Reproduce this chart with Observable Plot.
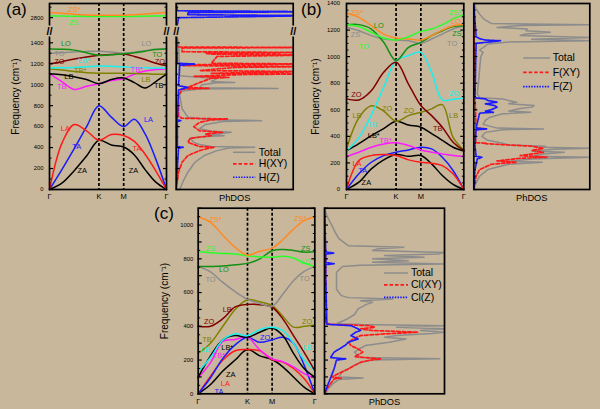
<!DOCTYPE html>
<html><head><meta charset="utf-8">
<script src="https://cdn.jsdelivr.net/npm/d3@7"></script>
<script src="https://cdn.jsdelivr.net/npm/@observablehq/plot@0.6"></script>
<style>
body{margin:0;background:#c8b79b;}
#root{position:relative;width:600px;height:409px;background:#c8b79b;font-family:"Liberation Sans",Arial,sans-serif;overflow:hidden}
#root svg{position:absolute}
.plabel{position:absolute;font-size:17px;line-height:1;color:#000}
</style></head><body><div id="root"></div><script>
const BG = "#c8b79b";
const FONT = '"Liberation Sans", Arial, Helvetica, sans-serif';
const C = {black:"#000000", blue:"#1a1aff", red:"#ff1a1a", magenta:"#ff1aff", cyan:"#1af0f0", olive:"#808000",
  brown:"#800000", dkgreen:"#129012", lime:"#2aff2a", gray:"#8c8c8c", orange:"#ff8a22"};

// k-path: Γ–K–M–Γ (lengths 1 : 0.5 : 0.866)
const kTicks = [0, 1, 1.5, 2.366];
const kLabels = ["Γ", "K", "M", "Γ"];
const sGrid = [0, 0.25, 0.5, 0.75, 1, 1.25, 1.5, 1.7165, 1.933, 2.1495, 2.366];

// ---- panel (a) bands (cm^-1 at sGrid)
const aZA  = [0, 60, 180, 320, 470, 425, 405, 330, 190, 70, 0];
const aTA  = [0, 190, 390, 600, 800, 690, 600, 670, 530, 290, 0];
const aLA  = [0, 440, 620, 560, 470, 525, 515, 460, 336, 178, 0];
const aMag = [1105, 1030, 955, 985, 1010, 1040, 1060, 1100, 1130, 1145, 1150];
const aBlk = [1105, 1095, 1075, 1050, 1010, 1050, 1065, 1020, 968, 1030, 1100];
const aOli = [1150, 1140, 1125, 1115, 1110, 1110, 1110, 1108, 1105, 1100, 1100];
const aCya = [1160, 1162, 1165, 1172, 1178, 1175, 1170, 1165, 1162, 1160, 1160];
const aZO  = [1200, 1220, 1245, 1265, 1280, 1288, 1292, 1270, 1240, 1205, 1180];
const aTO  = [1300, 1305, 1312, 1318, 1320, 1312, 1300, 1310, 1325, 1338, 1342];
const aLO  = [1340, 1338, 1330, 1305, 1280, 1285, 1295, 1305, 1320, 1335, 1340];
const aZS  = [2816, 2815, 2813, 2812, 2811, 2811, 2811, 2812, 2814, 2816, 2817];
const aZSs = [2848, 2842, 2832, 2825, 2822, 2822, 2823, 2828, 2835, 2842, 2848];
const aBands = [[aZA,"black"],[aTA,"blue"],[aLA,"red"],[aMag,"magenta"],[aBlk,"black"],[aOli,"olive"],
  [aCya,"cyan"],[aZO,"brown"],[aTO,"gray"],[aLO,"dkgreen"],[aZS,"lime"],[aZSs,"orange"]];
const aLabels = [["ZS*",0.5,2873,"orange"],["ZS",0.49,2750,"lime"],["LO",0.33,1394,"dkgreen"],["TO",0.2,1295,"gray"],
  ["ZO",0.2,1216,"brown"],["LB*",0.7,1226,"cyan"],["TB*",0.62,1138,"olive"],["LB",0.39,1073,"black"],["TB",0.25,978,"magenta"],
  ["LO",1.96,1394,"gray"],["TO",2.18,1289,"dkgreen"],["ZO",2.23,1216,"brown"],["TB*",1.77,1146,"magenta"],["LB",1.95,1051,"olive"],
  ["TB",2.21,994,"black"],["LA",0.32,584,"red"],["TA",0.55,410,"blue"],["ZA",0.66,178,"black"],["LA",2.0,663,"blue"],
  ["TA",1.77,390,"red"],["ZA",1.70,184,"black"]];

// ---- panel (b) bands
const bZA  = [0, 55, 155, 223, 263, 250, 256, 193, 105, 38, 0];
const bTA  = [0, 118, 205, 255, 280, 298, 318, 306, 243, 143, 0];
const bLA  = [0, 218, 255, 263, 256, 223, 205, 198, 180, 118, 0];
const bMag = [248, 280, 318, 343, 351, 331, 298, 281, 268, 256, 248];
const bBlk = [290, 345, 405, 458, 514, 485, 469, 420, 370, 318, 290];
const bOli = [306, 540, 630, 590, 514, 556, 581, 607, 639, 393, 298];
const bCya = [288, 390, 560, 770, 970, 1008, 1032, 882, 674, 679, 689];
const bZO  = [682, 674, 744, 882, 957, 794, 632, 556, 469, 356, 293];
const bOra = [1326, 1296, 1233, 1170, 1140, 1133, 1125, 1158, 1200, 1233, 1241];
const bLim = [1240, 1226, 1183, 1140, 1125, 1150, 1190, 1208, 1241, 1283, 1316];
const bDkg = [1240, 1241, 1208, 1108, 970, 1070, 1108, 1158, 1195, 1226, 1233];
const bGry = [1221, 1195, 1158, 1133, 1125, 1120, 1100, 1133, 1170, 1208, 1233];
const bBands = [[bZA,"black"],[bTA,"blue"],[bLA,"red"],[bMag,"magenta"],[bBlk,"black"],[bOli,"olive"],
  [bCya,"cyan"],[bZO,"brown"],[bGry,"gray"],[bDkg,"dkgreen"],[bOra,"orange"],[bLim,"lime"]];
const bLabels = [["ZS*",0.21,1328,"orange"],["LO",0.65,1233,"dkgreen"],["ZS",0.18,1163,"gray"],["TO",0.35,1078,"lime"],
  ["ZO",0.2,712,"brown"],["LB",0.21,556,"olive"],["TB",0.52,489,"cyan"],["LB*",0.55,406,"black"],["TB*",0.79,368,"magenta"],
  ["LA",0.21,198,"red"],["TA",0.33,143,"blue"],["ZA",0.4,48,"black"],["ZO",0.82,606,"olive"],["ZO",1.26,594,"olive"],
  ["ZS*",2.19,1333,"lime"],["LO",2.21,1263,"orange"],["ZS",2.23,1170,"dkgreen"],["TO",2.13,1095,"gray"],
  ["ZO",2.17,719,"cyan"],["LB",2.16,556,"olive"],["TB",1.84,456,"brown"]];

// ---- panel (c) bands
const cZA  = [0, 55, 135, 200, 262, 225, 203, 160, 100, 40, 0];
const cLA  = [0, 105, 200, 255, 262, 255, 203, 188, 150, 90, 0];
const cTA  = [0, 95, 210, 290, 335, 305, 320, 335, 300, 170, 0];
const cMag = [93, 185, 310, 322, 335, 260, 207, 190, 160, 120, 93];
const cBlk = [99, 225, 320, 345, 335, 365, 390, 345, 240, 150, 99];
const cCya = [132, 215, 320, 355, 345, 380, 394, 375, 300, 200, 138];
const cOli = [240, 300, 400, 500, 558, 545, 523, 460, 395, 400, 408];
const cZO  = [400, 400, 445, 515, 530, 528, 513, 444, 345, 246, 138];
const cTO  = [755, 722, 660, 605, 560, 535, 519, 590, 670, 725, 755];
const cLO  = [755, 755, 757, 765, 773, 800, 848, 855, 850, 840, 842];
const cZS  = [842, 836, 832, 828, 818, 812, 809, 815, 805, 775, 755];
const cZSs = [1049, 1016, 940, 868, 822, 845, 862, 913, 976, 1026, 1049];
const cBands = [[cZA,"black"],[cLA,"red"],[cTA,"blue"],[cMag,"magenta"],[cBlk,"black"],[cCya,"cyan"],
  [cOli,"olive"],[cZO,"brown"],[cTO,"gray"],[cLO,"dkgreen"],[cZS,"lime"],[cZSs,"orange"]];
const cLabels = [["ZS*",0.35,1030,"orange"],["ZS",0.25,862,"lime"],["LO",0.52,736,"dkgreen"],["TO",0.25,675,"gray"],
  ["LB",0.59,499,"brown"],["ZO",0.22,428,"brown"],["TB",0.18,321,"olive"],["LB*",0.59,272,"black"],["LB",0.15,262,"cyan"],
  ["TB*",0.42,227,"magenta"],["ZA",0.66,112,"black"],["LA",0.55,59,"red"],["TA",0.42,14,"blue"],
  ["ZS*",2.07,1039,"orange"],["ZS",2.18,862,"dkgreen"],["LO",2.18,785,"lime"],["TO",2.16,680,"gray"],
  ["ZO",2.21,428,"olive"],["ZO",1.36,331,"blue"],["LB",2.22,272,"cyan"]];

// ---- PhDOS [frequency, DOS (fraction of panel width)]
const aTotal = [[0,0.03],[80,0.06],[165,0.1],[260,0.16],[324,0.24],[371,0.35],[395,0.45],[403,0.67],[410,0.3],[430,0.2],[450,0.15],[489,0.12],[505,0.25],[514,0.41],[522,0.3],[546,0.47],[556,0.3],[580,0.2],[620,0.25],[650,0.4],[657,0.73],[665,0.3],[690,0.1],[771,0.05],[900,0.03],[940,0.05],[960,0.2],[965,0.87],[970,0.2],[1000,0.22],[1018,0.35],[1022,0.5],[1030,0.3],[1060,0.35],[1070,0.2],[1085,0.03],[1400,0.02],[1500,0],[2665,0],[2935,0]];
const aHXY = [[0,0],[165,0.02],[260,0.05],[324,0.1],[371,0.2],[395,0.28],[403,0.33],[410,0.2],[450,0.1],[489,0.12],[514,0.3],[530,0.25],[546,0.4],[560,0.2],[600,0.15],[640,0.2],[665,0.3],[673,0.44],[680,0.05],[700,0.02],[900,0.02],[958,0.05],[965,0.28],[975,0.1],[1020,0.2],[1062,0.3],[1070,0.45],[1080,0.15],[1098,0.6],[1102,1.2],[1108,0.3],[1118,0.7],[1124,1.2],[1135,0.2],[1165,0.5],[1174,1.2],[1182,0.06],[1192,0.1],[1197,1.2],[1205,0.3],[1270,0.35],[1283,1.2],[1292,0.3],[1300,0.25],[1307,1.2],[1315,0.05],[1350,0.05],[1355,1.2],[1360,0.01],[1500,0]];
const aHZ = [[0,0],[200,0.01],[395,0.02],[403,0.06],[410,0.01],[650,0.01],[657,0.04],[665,0.01],[950,0.02],[975,0.1],[990,0.02],[1185,0.03],[1197,0.16],[1205,0.01],[1500,0],[2665,0],[2800,0.02],[2819,1.2],[2828,0.1],[2848,0.1],[2857,1.2],[2866,0.01],[2935,0]];

const bTotal = [[0,0],[50,0.02],[100,0.05],[150,0.12],[190,0.3],[205,0.59],[212,0.3],[230,0.5],[243,1.0],[250,0.5],[268,0.6],[280,0.78],[290,0.5],[303,0.7],[310,1.0],[318,0.6],[326,0.62],[335,0.3],[348,0.25],[370,0.12],[400,0.07],[430,0.1],[450,0.25],[456,0.6],[462,0.2],[490,0.08],[520,0.1],[544,0.14],[570,0.25],[581,0.49],[590,0.3],[610,0.4],[620,0.5],[632,0.52],[645,0.3],[657,0.37],[670,0.3],[682,0.25],[690,0.05],[720,0.03],[800,0.04],[900,0.05],[1000,0.06],[1032,0.08],[1050,0.05],[1080,0.1],[1095,0.12],[1110,0.3],[1120,1.0],[1130,0.5],[1145,1.0],[1160,0.4],[1170,0.45],[1183,0.66],[1195,0.45],[1208,0.46],[1220,0.2],[1235,0.4],[1240,1.0],[1250,0.15],[1280,0.09],[1320,0.05],[1360,0.02],[1400,0]];
const bFXY = [[0,0],[100,0.02],[150,0.05],[190,0.15],[205,0.37],[215,0.2],[235,0.4],[243,0.63],[255,0.4],[280,0.6],[295,0.5],[310,0.6],[326,0.5],[335,0.3],[345,0.1],[348,0.11],[352,0.02],[400,0.01],[450,0.02],[456,0.11],[462,0.02],[700,0.01],[1400,0]];
const bFZ = [[0,0],[150,0.01],[230,0.03],[243,0.07],[250,0.02],[330,0.01],[450,0.02],[456,0.11],[462,0.02],[575,0.05],[581,0.17],[590,0.1],[600,0.15],[620,0.2],[632,0.18],[645,0.1],[657,0.2],[670,0.12],[682,0.1],[690,0.01],[1100,0.02],[1112,0.15],[1120,0.23],[1125,0.1],[1135,0.05],[1150,0.02],[1400,0]];

const cTotal = [[0,0.01],[30,0.03],[60,0.07],[85,0.12],[93,0.32],[100,0.12],[130,0.15],[148,0.2],[170,0.25],[187,0.31],[200,0.4],[207,0.96],[215,0.3],[247,0.25],[270,0.3],[286,0.34],[306,0.54],[325,0.68],[335,0.5],[345,0.6],[358,0.9],[365,1.0],[375,0.8],[385,1.0],[395,0.6],[404,1.0],[410,0.3],[415,0.1],[440,0.18],[470,0.25],[503,0.28],[530,0.35],[542,0.4],[552,0.3],[562,0.57],[570,0.2],[582,0.14],[620,0.1],[680,0.1],[720,0.1],[755,0.15],[762,0.3],[769,1.0],[780,0.4],[789,0.7],[800,0.4],[809,0.83],[820,0.5],[828,0.95],[838,1.0],[850,0.4],[860,0.45],[868,0.66],[877,0.2],[920,0.12],[956,0.09],[1000,0.06],[1055,0.02],[1100,0]];
const cClXY = [[0,0],[30,0.02],[60,0.05],[88,0.08],[93,0.14],[100,0.06],[148,0.2],[187,0.3],[200,0.38],[207,0.47],[220,0.25],[247,0.32],[266,0.28],[286,0.22],[306,0.2],[325,0.24],[345,0.3],[355,0.5],[365,0.78],[375,0.4],[385,0.3],[394,0.42],[404,0.37],[412,0.05],[420,0.01],[800,0.01],[1100,0]];
const cClZ = [[0,0],[40,0.02],[93,0.05],[148,0.08],[200,0.1],[207,0.18],[215,0.05],[247,0.08],[286,0.17],[306,0.2],[325,0.28],[345,0.22],[365,0.26],[375,0.3],[385,0.28],[395,0.25],[404,0.22],[412,0.02],[700,0.01],[765,0.01],[771,0.08],[778,0.01],[828,0.01],[834,0.08],[840,0.01],[1100,0]];

const aLegend = ["Total", "H(XY)", "H(Z)"];
const bLegend = ["Total", "F(XY)", "F(Z)"];
const cLegend = ["Total", "Cl(XY)", "Cl(Z)"];

// ---------------------------------------------------------------
const root = document.getElementById("root");
const STYLE = {background:"none", fontFamily:FONT, fontSize:"8px", color:"black", overflow:"visible"};
const seriesStyle = [
  {stroke:C.gray, strokeWidth:1.5},
  {stroke:C.red, strokeWidth:1.7, strokeDasharray:"3.5,2"},
  {stroke:C.blue, strokeWidth:1.7, strokeDasharray:"1.5,1.2"}
];
const identity = f => f;
function place(svg, left, top){ svg.style.left = left + "px"; svg.style.top = top + "px"; root.appendChild(svg); }

function tickMarks(cfg, sides){
  const ym = cfg.ym || identity;
  const m = [];
  for (const anchor of sides) {
    m.push(Plot.axisY(cfg.minor.map(f => ym(f)), {anchor, tickSize:-2.5, tickFormat:() => "", label:null, strokeWidth:1}));
    m.push(Plot.axisY(cfg.major.map(f => ym(f)), {anchor, tickSize:-4, tickFormat:() => "", label:null, strokeWidth:1.2}));
  }
  return m;
}
// axis-break "//" marks, placed at the gap below the frame top
function breakMarks(cfg){
  if (cfg.gapPx === undefined) return [];
  return ["top-left", "top-right"].map(frameAnchor => Plot.text(["//"], {frameAnchor, dy:cfg.gapPx, text:d => d,
    textAnchor:"middle", lineAnchor:"middle",
    fontSize:11, fontWeight:"bold", fill:"black", stroke:BG, strokeWidth:3, paintOrder:"stroke"}));
}

function dispersion(cfg){
  const ym = cfg.ym || identity;
  const rows = cfg.bands.flatMap(([vals, color], b) => vals.map((f, i) => ({s:sGrid[i], f, b, color:C[color]})));
  const labs = cfg.labels.map(([text, s, f, color]) => ({text, s, f, color:C[color]}));
  const svg = Plot.plot({
    width:cfg.width, height:cfg.height,
    marginLeft:cfg.mL, marginRight:cfg.mR, marginTop:cfg.mT, marginBottom:cfg.mB,
    style:STYLE,
    x:{domain:[0, kTicks[3]], axis:null},
    y:{domain:cfg.yDomain, axis:null},
    marks:[
      Plot.ruleX([kTicks[1], kTicks[2]], {stroke:"black", strokeWidth:1.7, strokeDasharray:"3,2"}),
      Plot.line(rows, {x:"s", y:d => ym(d.f), z:"b", stroke:"color", strokeWidth:1.5, curve:"catmull-rom"}),
      Plot.text(labs, {x:"s", y:d => ym(d.f), text:"text", fill:"color", fontSize:7.4}),
      ...tickMarks(cfg, ["left", "right"]),
      Plot.text(cfg.labelTicks, {frameAnchor:"left", y:d => ym(d), text:d => String(d), textAnchor:"end",
        lineAnchor:"middle", dx:-cfg.tickPad, fontSize:5.8}),
      Plot.text(kTicks, {x:d => d, frameAnchor:"bottom", text:d => kLabels[kTicks.indexOf(d)],
        lineAnchor:"middle", textAnchor:"middle", dy:7.5, fontSize:7.5}),
      Plot.frame({stroke:"black", strokeWidth:1.7}),
      ...breakMarks(cfg),
      Plot.text(["Frequency (cm⁻¹)"], {frameAnchor:"left", dx:-cfg.labelOffset, rotate:-90, fontSize:10,
        textAnchor:"middle", lineAnchor:"middle", text:d => d})
    ]
  });
  place(svg, cfg.left, cfg.top);
}

function dos(cfg){
  const ym = cfg.ym || identity;
  const lines = cfg.series.map((data, i) =>
    Plot.line(data, {x:d => d[1], y:d => ym(d[0]), clip:true, ...seriesStyle[i]}));
  const [lx1, lx2, lxt] = cfg.legendX;
  const legend = cfg.legend.flatMap((name, i) => [
    Plot.ruleY([ym(cfg.legendY[i])], {x1:lx1, x2:lx2, ...seriesStyle[i]}),
    Plot.text([name], {x:lxt, y:ym(cfg.legendY[i]), text:d => d, textAnchor:"start", lineAnchor:"middle", fontSize:10.5})
  ]);
  const svg = Plot.plot({
    width:cfg.width, height:cfg.height,
    marginLeft:cfg.mL, marginRight:cfg.mR, marginTop:cfg.mT, marginBottom:cfg.mB,
    style:STYLE,
    x:{domain:[0, 1], axis:null},
    y:{domain:cfg.yDomain, axis:null},
    marks:[
      ...lines,
      ...tickMarks(cfg, ["left"]),
      Plot.frame({stroke:"black", strokeWidth:1.7}),
      ...breakMarks(cfg),
      ...legend,
      Plot.text(["PhDOS"], {frameAnchor:"bottom", dy:8.5, fontSize:9.3, lineAnchor:"middle", textAnchor:"middle", text:d => d})
    ]
  });
  place(svg, cfg.left, cfg.top);
}

// panel (a): broken frequency axis (0–1500 | 2665–2935), gap compressed to 5 units
const aBreak = [1500, 2665];
const aMap = f => f <= aBreak[0] ? f : f >= aBreak[1] ? aBreak[0] + 5 + (f - aBreak[1])
  : aBreak[0] + 5 * (f - aBreak[0]) / (aBreak[1] - aBreak[0]);
const aDomain = [0, aMap(2935)];
const aMajor = [...d3.range(0, 1501, 200), 2800];
const aMinor = [...d3.range(100, 1501, 200), 2700, 2900];
const aLabelTicks = [...d3.range(0, 1401, 200), 2800];
dispersion({bands:aBands, labels:aLabels, yDomain:aDomain, ym:aMap, gapPx:28.3, major:aMajor, minor:aMinor, labelTicks:aLabelTicks,
  width:170, height:200, mL:49, mR:4, mT:3, mB:11, left:0, top:0, tickPad:6, labelOffset:34});
dos({series:[aTotal, aHXY, aHZ], legend:aLegend, legendX:[0.49, 0.68, 0.705], legendY:[355, 245, 117],
  yDomain:aDomain, ym:aMap, gapPx:28.3, major:aMajor, minor:aMinor,
  width:130, height:200, mL:5.7, mR:7.3, mT:3, mB:11, left:170, top:0});

// panel (b)
const bDomain = [0, 1400];
const bMajor = d3.range(0, 1401, 200);
const bMinor = d3.range(0, 1401, 50).filter(v => v % 200);
dispersion({bands:bBands, labels:bLabels, yDomain:bDomain, major:bMajor, minor:bMinor, labelTicks:bMajor,
  width:170, height:200, mL:46, mR:6.7, mT:3, mB:11, left:300, top:0, tickPad:6.5, labelOffset:31});
dos({series:[bTotal, bFXY, bFZ], legend:bLegend, legendX:[0.43, 0.66, 0.68], legendY:[990, 882, 774],
  yDomain:bDomain, major:bMajor, minor:bMinor,
  width:130, height:200, mL:3.3, mR:10.7, mT:3, mB:11, left:470, top:0});

// panel (c)
const cDomain = [0, 1100];
const cMajor = d3.range(0, 1101, 100);
const cMinor = d3.range(50, 1101, 100);
const cLabelTicks = d3.range(0, 1001, 200);
dispersion({bands:cBands, labels:cLabels, yDomain:cDomain, major:cMajor, minor:cMinor, labelTicks:cLabelTicks,
  width:170, height:209, mL:47.7, mR:5.7, mT:7.7, mB:15.7, left:150, top:200, tickPad:5, labelOffset:33});
dos({series:[cTotal, cClXY, cClZ], legend:cLegend, legendX:[0.5, 0.7, 0.72], legendY:[716, 645, 572],
  yDomain:cDomain, major:cMajor, minor:cMinor,
  width:130, height:209, mL:4, mR:6, mT:7.7, mB:15.7, left:320, top:200});

// panel letters
for (const [t, l, tp] of [["(a)", 6, 1], ["(b)", 301, 1], ["(c)", 154, 205]]) {
  const d = document.createElement("div");
  d.className = "plabel"; d.textContent = t; d.style.left = l + "px"; d.style.top = tp + "px";
  root.appendChild(d);
}
</script></body></html>
